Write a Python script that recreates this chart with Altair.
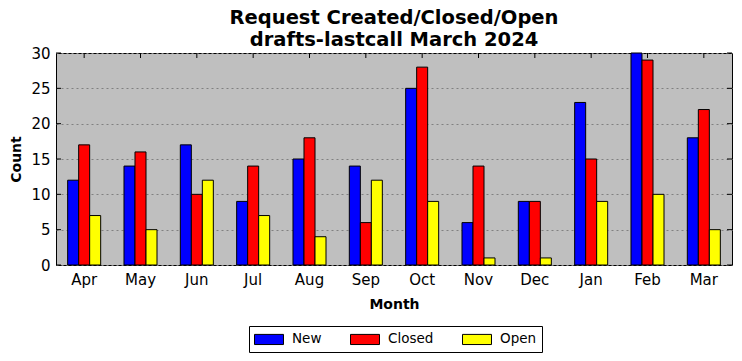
import altair as alt
import pandas as pd

months = ["Apr", "May", "Jun", "Jul", "Aug", "Sep", "Oct", "Nov", "Dec", "Jan", "Feb", "Mar"]
new = [12, 14, 17, 9, 15, 14, 25, 6, 9, 23, 30, 18]
closed = [17, 16, 10, 14, 18, 6, 28, 14, 9, 15, 29, 22]
open_ = [7, 5, 12, 7, 4, 12, 9, 1, 1, 9, 10, 5]
series = ["New", "Closed", "Open"]
colors = ["#0000ff", "#ff0000", "#ffff00"]
yticks = [0, 5, 10, 15, 20, 25, 30]

rows = []
for i, m in enumerate(months):
    for s, vals in zip(series, [new, closed, open_]):
        rows.append({"Month": m, "Series": s, "Count": vals[i]})
df = pd.DataFrame(rows)

W, H = 676, 212
FONT = "DejaVu Sans"

xscale = alt.Scale(domain=months, paddingInner=0.414, paddingOuter=0.207)
yscale = alt.Scale(domain=[0, 30], nice=False)

x_axis = alt.Axis(title="Month", labelAngle=0, ticks=False, domain=False,
                  labelFontSize=15, labelPadding=7, labelFont=FONT,
                  titleFont=FONT, titleFontSize=14, titleFontWeight="bold",
                  titlePadding=10, labelColor="black", titleColor="black")
y_axis = alt.Axis(title="Count", values=yticks, ticks=False, domain=False,
                  labelFontSize=15, labelPadding=6, labelFont=FONT, labelOverlap=False,
                  titleFont=FONT, titleFontSize=14, titleFontWeight="bold",
                  titlePadding=7, grid=True, gridDash=[2, 3], gridColor="#808080",
                  gridWidth=1, labelColor="black", titleColor="black")

bars = alt.Chart(df).mark_bar(stroke="black", strokeWidth=1).encode(
    x=alt.X("Month:N", scale=xscale, sort=months, axis=x_axis),
    xOffset=alt.XOffset("Series:N", sort=series, scale=alt.Scale(domain=series, paddingInner=0, paddingOuter=0)),
    y=alt.Y("Count:Q", scale=yscale, axis=y_axis),
    color=alt.Color("Series:N", sort=series, scale=alt.Scale(domain=series, range=colors),
                    legend=alt.Legend(title=None, orient="none", legendX=193, legendY=273,
                                      direction="horizontal", strokeColor="black",
                                      fillColor="white", padding=5, labelFont=FONT,
                                      labelFontSize=13.5, labelOffset=15, columnPadding=26,
                                      symbolType="M-2,-0.7h4v1.4h-4z", symbolSize=210,
                                      symbolOffset=7,
                                      symbolStrokeColor="black", symbolStrokeWidth=1,
                                      symbolOpacity=1, labelColor="black")),
)

mdf = pd.DataFrame({"Month": months})
xt = alt.Chart(mdf).mark_rule(color="black", strokeWidth=1).encode(
    x=alt.X("Month:N", scale=xscale, sort=months, axis=x_axis), y=alt.value(0), y2=alt.value(5))

ydf = pd.DataFrame({"Count": yticks})
yl = alt.Chart(ydf).mark_rule(color="black", strokeWidth=1).encode(
    y=alt.Y("Count:Q", scale=yscale, axis=y_axis), x=alt.value(0), x2=alt.value(5))
yr = alt.Chart(ydf).mark_rule(color="black", strokeWidth=1).encode(
    y=alt.Y("Count:Q", scale=yscale, axis=y_axis), x=alt.value(W - 5), x2=alt.value(W))

chart = alt.layer(bars, xt, yl, yr).properties(
    width=W, height=H,
    background="white",
    title=alt.TitleParams(["Request Created/Closed/Open", "drafts-lastcall March 2024"],
                          fontSize=19.5, font=FONT, fontWeight="bold", anchor="middle",
                          offset=-4, lineHeight=22, color="black"),
    autosize=alt.AutoSizeParams(type="none"),
    padding={"left": 48, "top": 45, "right": 2, "bottom": 88},
).configure_view(fill="#bfbfbf", stroke="black", strokeWidth=1)

chart.save("out.html", embed_options={"renderer": "svg", "actions": False})
